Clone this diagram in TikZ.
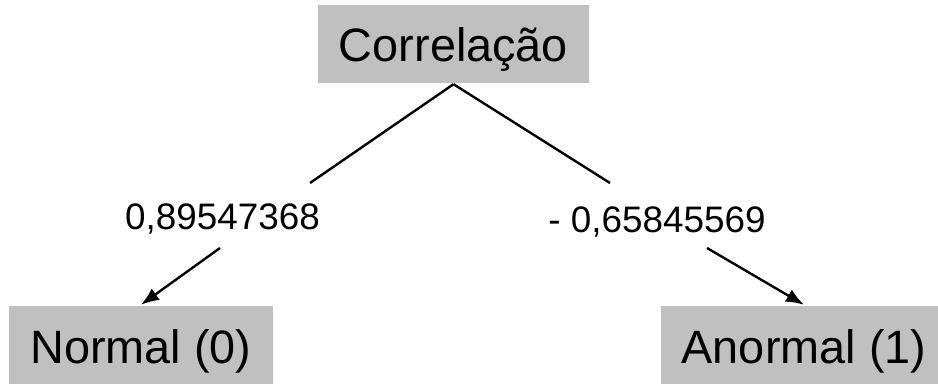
\documentclass[tikz,border=0pt]{standalone}
\usepackage{fontspec}
\setmainfont{Liberation Sans}
\usepackage{tikz}
\usetikzlibrary{arrows.meta,positioning}
\definecolor{boxgray}{RGB}{192,192,192}

\begin{document}
\begin{tikzpicture}[>={Latex[length=18bp,width=14bp]}, line width=2.4bp,
	box/.style={fill=boxgray, inner xsep=21bp, inner ysep=0bp, text height=57bp, text depth=21bp, font=\fontsize{47}{56}\selectfont, anchor=base},
	weight/.style={font=\fontsize{37}{44}\selectfont, inner sep=0bp, anchor=base}]
	\useasboundingbox (0bp,0bp) rectangle (938bp,385bp);

	\node (corr) at (453.5bp,323bp) [box] {Correlação};
	\node (normal) at (141bp,22bp) [box] {Normal (0)};
	\node (anormal) at (804bp,22bp) [box] {Anormal (1)};

	\node (pos) at (222.5bp,155bp) [weight] {0,89547368};
	\node (neg) at (657bp,152bp) [weight] {- 0,65845569};

	\coordinate (l1) at (310bp,202bp);
	\coordinate (l2) at (220bp,137bp);
	\coordinate (r1) at (610bp,202bp);
	\coordinate (r2) at (707bp,137bp);

	\draw (corr.south) -- (l1);
	\draw (corr.south) -- (r1);
	\draw [->] (l2) -- (normal.north);
	\draw [->] (r2) -- (anormal.north);

\end{tikzpicture}
\end{document}
